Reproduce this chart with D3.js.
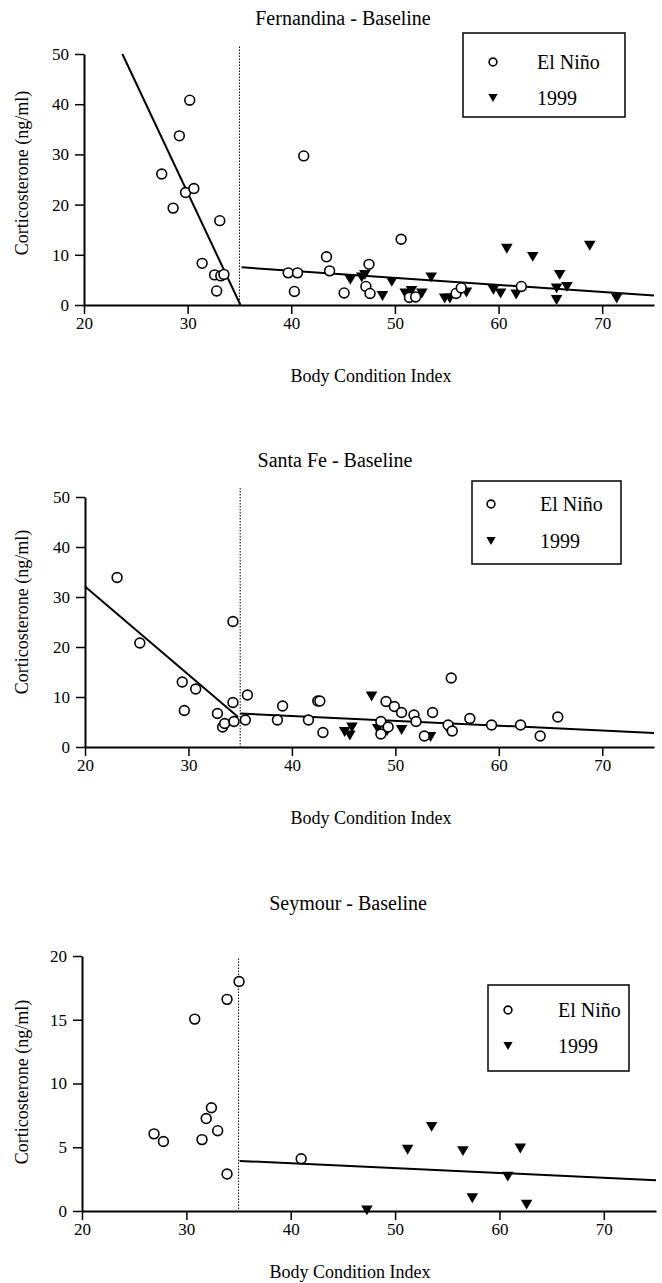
<!DOCTYPE html>
<html><head><meta charset="utf-8">
<script src="https://cdn.jsdelivr.net/npm/d3@7"></script>
<style>
body{margin:0;background:#fff}
svg{display:block}
text{font-family:"Liberation Serif","Times New Roman",serif;fill:#000}
</style>
</head><body><svg id="c" width="662" height="1283"></svg>
<script>
// ---------------- data ----------------
const panelTitles = ["Fernandina - Baseline", "Santa Fe - Baseline", "Seymour - Baseline"];
const seriesNames = ["El Niño", "1999"];
const xLabel = "Body Condition Index";
const yLabel = "Corticosterone (ng/ml)";
const xTicks = [20, 30, 40, 50, 60, 70];
const yTicksFern = [0, 10, 20, 30, 40, 50];
const yTicksSantaFe = [0, 10, 20, 30, 40, 50];
const yTicksSeymour = [0, 5, 10, 15, 20];
const breakPoint = 35;

const fernElNino = [[27.5,26.1],[28.6,19.3],[29.2,33.7],[29.8,22.4],[30.2,40.8],[30.6,23.2],[31.4,8.3],[32.6,6.0],[32.8,2.8],[33.1,16.8],[33.2,5.8],[33.5,6.1],[39.7,6.4],[40.6,6.4],[40.3,2.7],[41.2,29.7],[43.4,9.6],[43.7,6.8],[45.1,2.4],[47.5,8.1],[47.2,3.7],[47.6,2.3],[50.6,13.1],[51.4,1.5],[52.0,1.6],[55.9,2.3],[56.4,3.4],[62.2,3.7]];
const fern1999 = [[45.7,5.0],[46.8,5.5],[47.1,6.0],[48.8,1.8],[49.7,4.6],[51.0,2.3],[51.6,2.8],[52.6,2.3],[53.5,5.5],[54.8,1.3],[55.3,1.3],[56.9,2.5],[59.5,3.0],[60.2,2.3],[60.8,11.2],[61.7,2.1],[63.3,9.6],[65.9,6.0],[65.6,3.3],[66.6,3.6],[65.6,1.0],[68.8,11.8],[71.4,1.3]];
const fernFits = [[23.7,50,35.1,0],[35.2,7.5,75,1.9]];

const santaFeElNino = [[23.1,33.9],[25.3,20.8],[29.4,13.0],[29.6,7.3],[30.7,11.6],[32.8,6.7],[33.3,4.0],[33.5,4.7],[34.3,25.1],[34.3,8.9],[34.4,5.1],[35.5,5.4],[35.7,10.4],[38.6,5.4],[39.1,8.2],[41.6,5.4],[42.5,9.2],[42.7,9.2],[43.0,2.9],[48.6,5.1],[48.6,2.6],[49.1,9.1],[49.3,4.0],[49.9,8.1],[50.6,6.9],[51.8,6.4],[52.0,5.1],[52.8,2.2],[53.6,6.9],[55.1,4.4],[55.4,13.8],[55.5,3.2],[57.2,5.7],[59.3,4.4],[62.1,4.4],[64.0,2.2],[65.7,6.0]];
const santaFe1999 = [[45.1,3.0],[45.6,2.3],[45.8,3.9],[47.7,10.1],[48.3,3.6],[49.2,3.2],[50.6,3.4],[53.4,2.0],[55.2,3.1]];
const santaFeFits = [[20,32.1,34.8,6.0],[35,6.7,75,2.8]];

const seymourElNino = [[26.9,6.05],[27.8,5.45],[30.8,15.05],[31.5,5.6],[31.9,7.25],[32.4,8.1],[33.0,6.3],[33.9,16.6],[33.9,2.9],[35.05,18.0],[41.0,4.1]];
const seymour1999 = [[47.3,0.05],[51.2,4.8],[53.5,6.6],[56.5,4.7],[57.4,1.0],[60.8,2.7],[62.0,4.9],[62.6,0.5]];
const seymourFits = [[35.1,3.93,75,2.42]];

// ---------------- layout ----------------
const panels = [
  {title: panelTitles[0], elNino: fernElNino, y1999: fern1999, fits: fernFits, yTicks: yTicksFern, yMax: 50, dotTop: 51.5,
   xr: [84, 654], yr: [305, 54], tt: [343, 25], yl: [28, 173], xl: [371, 382],
   lg: {x: 463, y: 33, w: 162, h: 84, mx: 493, tx: 537, r1: 62, r2: 98}},
  {title: panelTitles[1], elNino: santaFeElNino, y1999: santaFe1999, fits: santaFeFits, yTicks: yTicksSantaFe, yMax: 50, dotTop: 51.8,
   xr: [85, 654], yr: [747, 497], tt: [335, 467], yl: [28, 612], xl: [371, 824],
   lg: {x: 472, y: 481, w: 149, h: 83, mx: 491, tx: 540, r1: 504, r2: 541}},
  {title: panelTitles[2], elNino: seymourElNino, y1999: seymour1999, fits: seymourFits, yTicks: yTicksSeymour, yMax: 20, dotTop: 19.8,
   xr: [82, 656], yr: [1211, 956], tt: [348, 910], yl: [28, 1082], xl: [350, 1278],
   lg: {x: 488, y: 985, w: 141, h: 86, mx: 508, tx: 558, r1: 1010, r2: 1046}}
];

const svg = d3.select("#c");
const tri = (cx, cy, s) => `M${cx - s},${cy - s * 0.85}L${cx + s},${cy - s * 0.85}L${cx},${cy + s * 0.85}Z`;

panels.forEach(p => {
  const x = d3.scaleLinear().domain([20, 75]).range(p.xr);
  const y = d3.scaleLinear().domain([0, p.yMax]).range(p.yr);
  const g = svg.append("g");

  g.append("text").attr("x", p.tt[0]).attr("y", p.tt[1]).attr("text-anchor", "middle")
    .style("font-size", "20px").text(p.title);

  const xa = g.append("g").attr("transform", `translate(0,${p.yr[0]})`)
    .call(d3.axisBottom(x).tickValues(xTicks).tickSize(9).tickSizeOuter(0).tickPadding(3).tickFormat(d3.format("d")));
  const ya = g.append("g").attr("transform", `translate(${p.xr[0]},0)`)
    .call(d3.axisLeft(y).tickValues(p.yTicks).tickSize(9).tickSizeOuter(0).tickPadding(6).tickFormat(d3.format("d")));
  [xa, ya].forEach(a => {
    a.select(".domain").attr("stroke", "#000").attr("stroke-width", 2);
    a.selectAll(".tick line").attr("stroke", "#000").attr("stroke-width", 1.5);
    a.selectAll(".tick text").style("font-size", "17px").style("font-family", '"Liberation Serif","Times New Roman",serif');
  });

  g.append("text").attr("x", p.xl[0]).attr("y", p.xl[1]).attr("text-anchor", "middle")
    .style("font-size", "18px").text(xLabel);
  g.append("text").attr("transform", `translate(${p.yl[0]},${p.yl[1]}) rotate(-90)`).attr("text-anchor", "middle")
    .style("font-size", "18px").text(yLabel);

  g.append("line").attr("x1", x(breakPoint)).attr("x2", x(breakPoint))
    .attr("y1", y(p.dotTop)).attr("y2", y(0))
    .attr("stroke", "#000").attr("stroke-width", 1).attr("stroke-dasharray", "1.5,1.5");

  g.selectAll(".fit").data(p.fits).enter().append("line")
    .attr("x1", d => x(d[0])).attr("y1", d => y(d[1]))
    .attr("x2", d => x(d[2])).attr("y2", d => y(d[3]))
    .attr("stroke", "#000").attr("stroke-width", 2);

  g.selectAll(".t").data(p.y1999).enter().append("path")
    .attr("d", d => tri(x(d[0]), y(d[1]), 5.8)).attr("fill", "#000");

  g.selectAll(".c").data(p.elNino).enter().append("circle")
    .attr("cx", d => x(d[0])).attr("cy", d => y(d[1])).attr("r", 4.9)
    .attr("fill", "#fff").attr("stroke", "#000").attr("stroke-width", 1.6);

  const L = p.lg;
  g.append("rect").attr("x", L.x).attr("y", L.y).attr("width", L.w).attr("height", L.h)
    .attr("fill", "none").attr("stroke", "#000").attr("stroke-width", 1.5);
  g.append("circle").attr("cx", L.mx).attr("cy", L.r1).attr("r", 3.9)
    .attr("fill", "#fff").attr("stroke", "#000").attr("stroke-width", 1.6);
  g.append("path").attr("d", tri(L.mx, L.r2, 4.6)).attr("fill", "#000");
  g.append("text").attr("x", L.tx).attr("y", L.r1 + 6.5).style("font-size", "20px").text(seriesNames[0]);
  g.append("text").attr("x", L.tx).attr("y", L.r2 + 6.5).style("font-size", "20px").text(seriesNames[1]);
});
</script>
</body></html>
